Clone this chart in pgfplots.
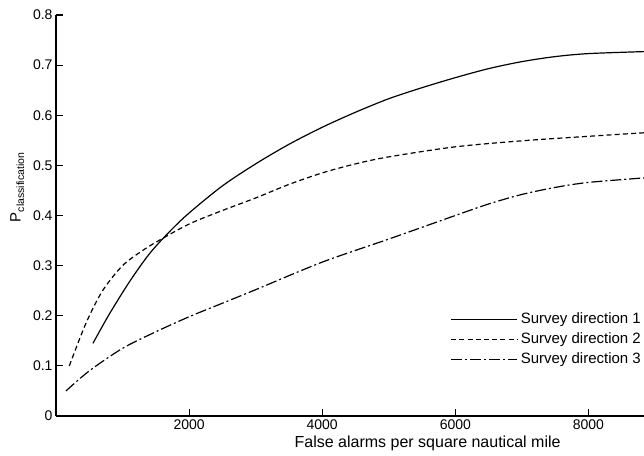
\documentclass[border=0pt]{standalone}
\usepackage{pgfplots}
\pgfplotsset{compat=1.18}
\usepackage{fontspec}
\setmainfont{Liberation Sans}
\begin{document}
\begin{tikzpicture}[x=1pt,y=1pt]
\begin{axis}[
  at={(0,0)}, anchor=south west,
  scale only axis, width=588pt, height=401pt,
  xmin=0, xmax=8835, ymin=0, ymax=0.8,
  axis lines=left,
  axis line style={-, line width=1.1pt, black},
  tick align=inside, major tick length=7pt,
  tick style={line width=1.1pt, black},
  xtick={2000,4000,6000,8000},
  xticklabels={2000,4000,6000,8000},
  ytick={0,0.1,0.2,0.3,0.4,0.5,0.6,0.7,0.8},
  yticklabels={0,0.1,0.2,0.3,0.4,0.5,0.6,0.7,0.8},
  ticklabel style={font=\fontsize{14}{14}\selectfont},
  xlabel={False alarms per square nautical mile},
  xlabel style={font=\fontsize{16}{16}\selectfont, at={(axis description cs:0.632,0)}, anchor=center, yshift=-27pt},
  ylabel={{\fontsize{15}{15}\selectfont P}\raisebox{-3.5pt}{\fontsize{10.5}{10.5}\selectfont classification}},
  ylabel style={at={(axis description cs:-0.066,0.57)}, anchor=center},
  legend style={draw=none, fill=none, at={(0.995,0.266)}, anchor=north east,
    font=\fontsize{15}{15}\selectfont, row sep=0pt, column sep=3pt, inner sep=0pt,
    nodes={inner sep=0pt, text height=13.5pt, text depth=6.5pt}},
  legend cell align=left,
  legend image code/.code={\draw[#1] (0pt,0pt) -- (66pt,0pt);},
  clip=true,
]
\addplot[black, line width=1.2pt, no markers, smooth, tension=0.5] coordinates {(555,0.145) (800,0.203) (1100,0.267) (1400,0.323) (1700,0.367) (2000,0.405) (2500,0.459) (3000,0.503) (3500,0.542) (4000,0.576) (4500,0.606) (5000,0.633) (5500,0.655) (6000,0.675) (6500,0.693) (7000,0.707) (7500,0.717) (8000,0.723) (8835,0.727)};
\addlegendentry{Survey direction 1}
\addplot[black, line width=1.2pt, no markers, smooth, tension=0.5, dash pattern=on 5pt off 3.2pt] coordinates {(200,0.1) (450,0.185) (700,0.25) (1000,0.3) (1300,0.33) (1545,0.35) (2000,0.383) (2500,0.41) (3000,0.435) (3500,0.462) (4000,0.485) (4500,0.503) (5000,0.517) (6000,0.537) (7000,0.549) (8000,0.558) (8835,0.565)};
\addlegendentry{Survey direction 2}
\addplot[black, line width=1.2pt, no markers, smooth, tension=0.5, dash pattern=on 11pt off 3pt on 2pt off 3pt] coordinates {(150,0.05) (500,0.09) (1000,0.135) (1500,0.168) (2000,0.198) (2500,0.225) (3000,0.252) (4000,0.307) (5000,0.353) (6000,0.40) (6500,0.423) (7000,0.442) (7500,0.456) (8000,0.466) (8835,0.475)};
\addlegendentry{Survey direction 3}
\end{axis}
\pgfresetboundingbox
\path (-56,-39) rectangle (588,416);
\end{tikzpicture}
\end{document}
